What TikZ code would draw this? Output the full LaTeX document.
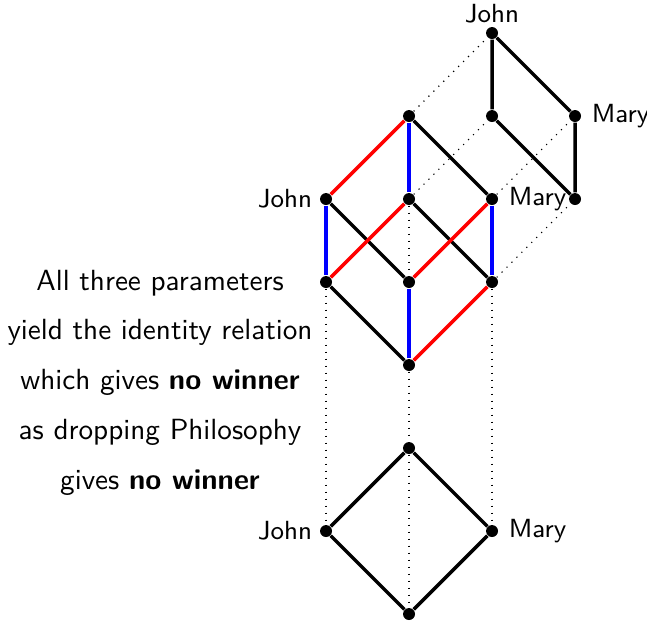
\documentclass[tikz,border=0pt]{standalone}
\usepackage{tikz}
\usetikzlibrary{positioning}
\tikzset{
  pt/.style={circle, fill=black, inner sep=0pt, minimum size=4.1pt},
  lbl/.style={font=\sffamily\small},
  txt/.style={font=\sffamily},
  edge/.style={very thick, color=black},
  redge/.style={very thick, color=red},
  bedge/.style={very thick, color=blue},
  proj/.style={dotted}
}

\begin{document}
\begin{tikzpicture}
    \useasboundingbox (-3.928,-0.096) rectangle (3.867,7.398);
    % Bottom lattice
    \node[pt] (bbot) at (1,0) {};
    \node[pt, label={[lbl, label distance=-1pt]left:John}] (bjohn) at (0,1) {};
    \node[pt, label={[lbl]right:Mary}] (bmary) at (2,1) {};
    \node[pt] (btop) at (1,2) {};
    % Cube
    \node[pt] (cbot) at (1,3) {};
    \node[pt] (cl) at (0,4) {};
    \node[pt] (cm) at (1,4) {};
    \node[pt] (cr) at (2,4) {};
    \node[pt, label={[lbl, label distance=-1pt]left:John}] (cjohn) at (0,5) {};
    \node[pt] (cmid) at (1,5) {};
    \node[pt, label={[lbl]right:Mary}] (cmary) at (2,5) {};
    \node[pt] (ctop) at (1,6) {};
    % Small lattice
    \node[pt, label={[lbl, label distance=-2.5pt]above:John}] (sjohn) at (2,7) {};
    \node[pt] (sl) at (2,6) {};
    \node[pt, label={[lbl]right:Mary}] (smary) at (3,6) {};
    \node[pt] (sbot) at (3,5) {};
    % Projections
    \draw[proj] (ctop) -- (sjohn);
    \draw[proj] (cmid) -- (sl);
    \draw[proj] (cmary) -- (smary);
    \draw[proj] (cr) -- (sbot);
    \draw[proj] (cmid) -- (cm);
    \draw[proj] (cl) -- (bjohn);
    \draw[proj] (cr) -- (bmary);
    \draw[proj] (cbot) -- (btop);
    \draw[proj] (btop) -- (bbot);
    % Black edges
    \draw[edge] (bbot) -- (bjohn) -- (btop) -- (bmary) -- (bbot);
    \draw[edge] (sjohn) -- (sl) -- (sbot) -- (smary) -- (sjohn);
    \draw[edge] (ctop) -- (cmary);
    \draw[edge] (cjohn) -- (cm);
    \draw[edge] (cmid) -- (cr);
    \draw[edge] (cl) -- (cbot);
    % Coloured edges
    \draw[redge] (ctop) -- (cjohn);
    \draw[redge] (cmid) -- (cl);
    \draw[redge] (cmary) -- (cm);
    \draw[redge] (cr) -- (cbot);
    \draw[bedge] (ctop) -- (cmid);
    \draw[bedge] (cjohn) -- (cl);
    \draw[bedge] (cmary) -- (cr);
    \draw[bedge] (cm) -- (cbot);
    % Note
    \node[txt, align=center] (note) at (-2,2.79) {All three parameters\\[5.07pt]
      yield the identity relation\\[5.07pt]
      which gives \textbf{no winner}\\[5.07pt]
      as dropping Philosophy\\[5.07pt]
      gives \textbf{no winner}};
\end{tikzpicture}
\end{document}
